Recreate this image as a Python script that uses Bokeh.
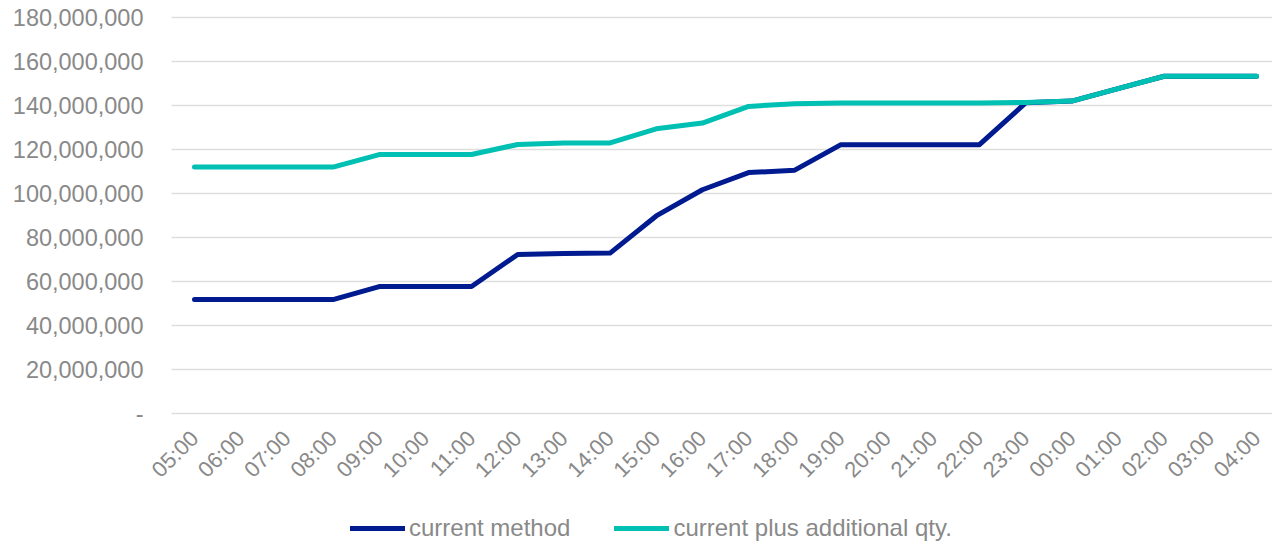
from bokeh.plotting import figure
from bokeh.models import Range1d, FixedTicker, Legend, LegendItem
from bokeh.embed import file_html
from bokeh.resources import INLINE
import math

hours = ["05:00", "06:00", "07:00", "08:00", "09:00", "10:00", "11:00", "12:00",
         "13:00", "14:00", "15:00", "16:00", "17:00", "18:00", "19:00", "20:00",
         "21:00", "22:00", "23:00", "00:00", "01:00", "02:00", "03:00", "04:00"]

current_method = [51_800_000, 51_800_000, 51_800_000, 51_800_000, 57_700_000, 57_700_000,
                  57_700_000, 72_300_000, 72_700_000, 72_900_000, 89_800_000, 101_700_000,
                  109_500_000, 110_600_000, 122_200_000, 122_200_000, 122_200_000, 122_200_000,
                  141_200_000, 142_000_000, 147_700_000, 153_300_000, 153_300_000, 153_300_000]

current_plus_additional = [112_000_000, 112_000_000, 112_000_000, 112_000_000, 117_700_000, 117_700_000,
                           117_700_000, 122_300_000, 122_900_000, 123_000_000, 129_400_000, 132_000_000,
                           139_600_000, 140_800_000, 141_100_000, 141_100_000, 141_100_000, 141_100_000,
                           141_400_000, 142_000_000, 147_700_000, 153_300_000, 153_300_000, 153_300_000]

y_ticks = [0, 20_000_000, 40_000_000, 60_000_000, 80_000_000, 100_000_000,
           120_000_000, 140_000_000, 160_000_000, 180_000_000]
y_tick_labels = ["-", "20,000,000", "40,000,000", "60,000,000", "80,000,000", "100,000,000",
                 "120,000,000", "140,000,000", "160,000,000", "180,000,000"]

series_names = ["current method", "current plus additional qty."]
series_colors = ["#001A8F", "#00BFB3"]

TEXT = "#898989"
FONT = "Liberation Sans"

x_idx = list(range(len(hours)))

# layout: 396 px of frame hold 0..180M; frame runs from 12 px to the bottom edge (542)
y_max = 180_000_000
px_per_unit = 396 / y_max
y_top = y_max + 5 / px_per_unit
y_bottom = -129 / px_per_unit
x_px = 46.17
x_start = -(194 - 146) / x_px
x_end = 23 + 16 / x_px
grid_x0 = -0.5

p = figure(width=1272, height=542, output_backend="svg", toolbar_location=None,
           x_range=Range1d(x_start, x_end), y_range=Range1d(y_bottom, y_top),
           min_border_left=146, min_border_right=0, min_border_top=12, min_border_bottom=0)

p.outline_line_color = None
p.background_fill_color = "white"
p.border_fill_color = "white"
p.xgrid.visible = False
p.ygrid.visible = False

# horizontal gridlines, starting at the left edge of the category area
p.segment(x0=[grid_x0] * len(y_ticks), x1=[x_end] * len(y_ticks), y0=y_ticks, y1=y_ticks,
          line_color="#DEDEDE", line_width=1.6)

p.yaxis.ticker = FixedTicker(ticks=y_ticks)
p.yaxis.major_label_overrides = {t: l for t, l in zip(y_ticks, y_tick_labels)}
p.xaxis.ticker = FixedTicker(ticks=x_idx)
p.xaxis.major_label_overrides = {i: h for i, h in zip(x_idx, hours)}
p.xaxis.major_label_orientation = math.pi / 4
p.xaxis.fixed_location = 0

for ax in (p.xaxis, p.yaxis):
    ax.axis_line_color = None
    ax.major_tick_line_color = None
    ax.minor_tick_line_color = None
    ax.major_label_text_color = TEXT
    ax.major_label_text_font = FONT
p.yaxis.major_tick_out = 0
p.yaxis.major_tick_in = 0
p.yaxis.major_label_text_font_size = "23.5px"
p.yaxis.major_label_standoff = 3
p.xaxis.major_label_text_font_size = "22px"
p.xaxis.major_label_standoff = 15

r1 = p.line(x_idx, current_method, line_color=series_colors[0], line_width=5,
            line_cap="round", line_join="round")
r2 = p.line(x_idx, current_plus_additional, line_color=series_colors[1], line_width=5,
            line_cap="round", line_join="round")

legend = Legend(items=[LegendItem(label=series_names[0], renderers=[r1]),
                       LegendItem(label=series_names[1], renderers=[r2])],
                orientation="horizontal", location=(204, 0),
                border_line_color=None, background_fill_alpha=0,
                padding=0, margin=0, spacing=44, glyph_width=55, glyph_height=24,
                label_height=24, label_standoff=4,
                label_text_font_size="24px", label_text_color=TEXT, label_text_font=FONT)
p.add_layout(legend, "center")

open("out.html", "w").write(file_html(p, INLINE))
